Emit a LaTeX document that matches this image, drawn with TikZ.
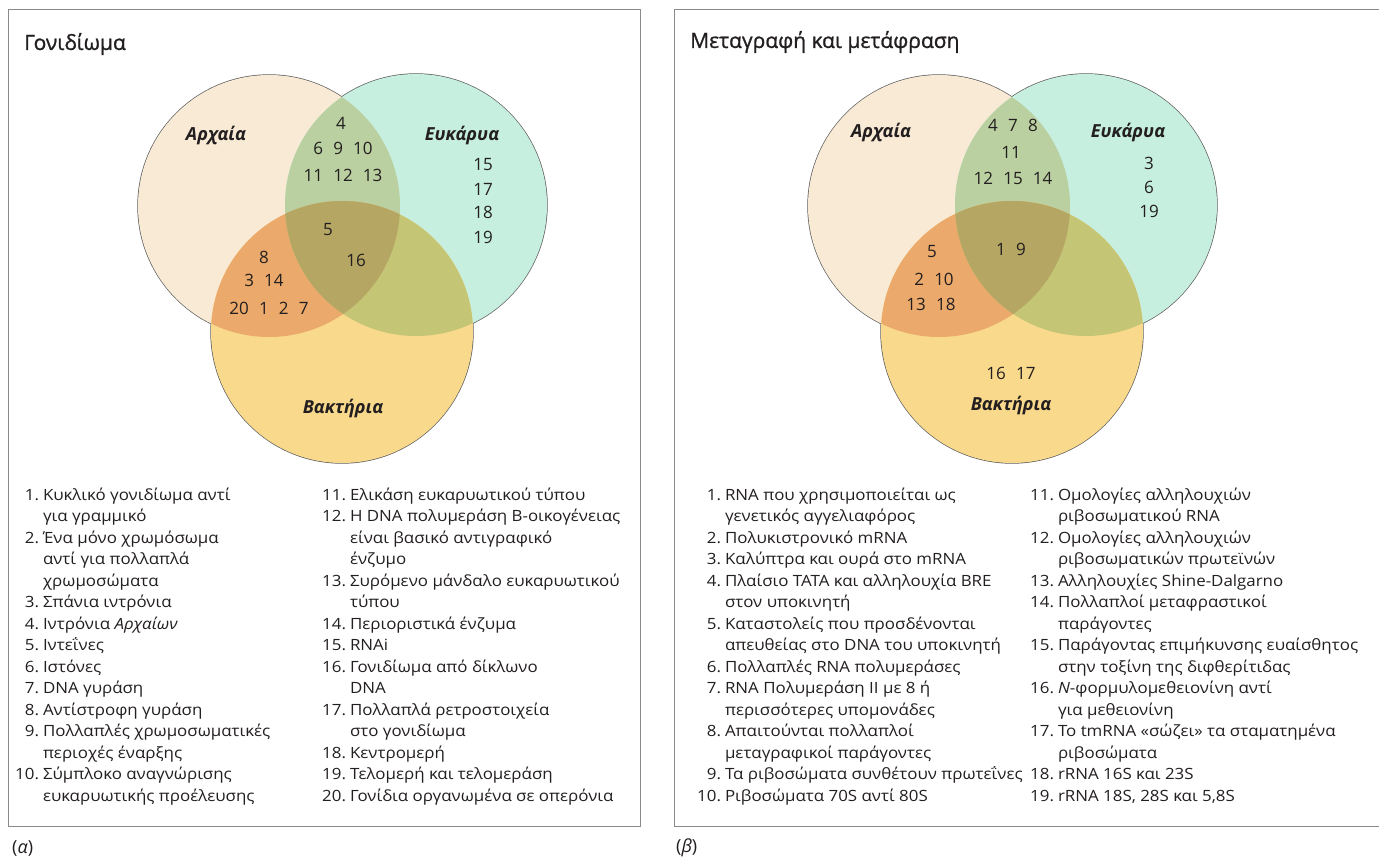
\documentclass[tikz,border=0pt]{standalone}
\usepackage{fontspec}
\setmainfont{Open Sans}
\setsansfont{Open Sans}
\newfontfamily\listfont[FakeStretch=1.09]{Open Sans}
\newfontfamily\titlefont[FakeBold=1]{Open Sans}
\definecolor{archfill}{HTML}{F8EAD4}
\definecolor{eukfill}{HTML}{C6EFDF}
\definecolor{bactfill}{HTML}{F9D98B}
\definecolor{archeuk}{HTML}{BAD0A1}
\definecolor{archbact}{HTML}{EBAA6B}
\definecolor{eukbact}{HTML}{C5C576}
\definecolor{allthree}{HTML}{B6A663}
\definecolor{rimgray}{HTML}{5E5E5E}
\definecolor{boxgray}{HTML}{8A8A8A}
\definecolor{inkblack}{HTML}{231F20}
\newcommand{\sep}{\hspace{0.6em}}
\newcommand{\rr}{131pt}
\tikzset{
  num/.style={font=\fontsize{17}{20}\selectfont, text=inkblack},
  kingdom/.style={font=\fontsize{18}{21}\selectfont\bfseries\itshape, text=inkblack},
  heading/.style={font=\fontsize{21}{25}\selectfont\titlefont, anchor=west, inner sep=0pt, text=inkblack},
  tag/.style={font=\fontsize{18}{21}\selectfont, anchor=west, inner sep=0pt, text=inkblack},
  itemlist/.style={font=\listfont\fontsize{15.5}{21.5}\selectfont, anchor=base west, inner sep=0pt, text=inkblack},
  panelbox/.style={draw=boxgray, line width=1pt},
  rim/.style={draw=rimgray, line width=1.4pt},
}
\begin{document}
\begin{tikzpicture}[x=1pt,y=-1pt]
\clip (0,0) rectangle (1379,859);
\fill[white] (0,0) rectangle (1379,859);
% panel frames
\draw[panelbox] (8,10) rectangle (640,826);
\draw[panelbox] (674,10) rectangle (1400,826);
% the three circles, the same in both panels
\foreach \sx/\p in {0/a,670/b}{
  \coordinate (arch\p) at (269+\sx,206);
  \coordinate (euk\p) at (416+\sx,205);
  \coordinate (bact\p) at (342+\sx,332);
  \draw[rim] (arch\p) circle [radius=\rr];
  \draw[rim] (euk\p) circle [radius=\rr];
  \draw[rim] (bact\p) circle [radius=\rr];
  \fill[archfill] (arch\p) circle [radius=\rr];
  \fill[eukfill] (euk\p) circle [radius=\rr];
  \fill[bactfill] (bact\p) circle [radius=\rr];
  \begin{scope}
    \clip (arch\p) circle [radius=\rr];
    \fill[archeuk] (euk\p) circle [radius=\rr];
    \fill[archbact] (bact\p) circle [radius=\rr];
  \end{scope}
  \begin{scope}
    \clip (euk\p) circle [radius=\rr];
    \fill[eukbact] (bact\p) circle [radius=\rr];
    \clip (arch\p) circle [radius=\rr];
    \fill[allthree] (bact\p) circle [radius=\rr];
  \end{scope}
}
% (a) genome
\node[heading] (titlea) at (24,44) {Γονιδίωμα};
\node[kingdom] (archnamea) at (216,135) {Αρχαία};
\node[kingdom] (euknamea) at (462,135) {Ευκάρυα};
\node[kingdom] (bactnamea) at (343,408) {Βακτήρια};
\node[num] (aea) at (341,123) {4};
\node[num] (aeb) at (343,148) {6\sep9\sep10};
\node[num] (aec) at (343,175) {11\sep12\sep13};
\node[num] (ea) at (483,165) {15};
\node[num] (eb) at (483,189) {17};
\node[num] (ec) at (483,212) {18};
\node[num] (ed) at (483,237) {19};
\node[num] (aeba) at (328,230) {5};
\node[num] (aebb) at (356,260) {16};
\node[num] (aba) at (264,257) {8};
\node[num] (abb) at (264,280) {3\sep14};
\node[num] (abc) at (269,308) {20\sep1\sep2\sep7};
\node[itemlist] (lista) at (15,500) {\begin{tabular}[t]{@{}r@{\hspace{4pt}}l@{}}
1. & Κυκλικό γονιδίωμα αντί\\
   & για γραμμικό\\
2. & Ένα μόνο χρωμόσωμα\\
   & αντί  για πολλαπλά\\
   & χρωμοσώματα\\
3. & Σπάνια ιντρόνια\\
4. & Ιντρόνια \textit{Αρχαίων}\\
5. & Ιντεΐνες\\
6. & Ιστόνες\\
7. & DNA γυράση\\
8. & Αντίστροφη γυράση\\
9. & Πολλαπλές χρωμοσωματικές\\
   & περιοχές έναρξης\\
10. & Σύμπλοκο αναγνώρισης\\
    & ευκαρυωτικής προέλευσης
\end{tabular}};
\node[itemlist] (listb) at (322,500) {\begin{tabular}[t]{@{}r@{\hspace{4pt}}l@{}}
11. & Ελικάση ευκαρυωτικού τύπου\\
12. & Η DNA πολυμεράση Β-οικογένειας\\
    & είναι βασικό αντιγραφικό\\
    & ένζυμο\\
13. & Συρόμενο μάνδαλο ευκαρυωτικού\\
    & τύπου\\
14. & Περιοριστικά ένζυμα\\
15. & RNAi\\
16. & Γονιδίωμα από δίκλωνο\\
    & DNA\\
17. & Πολλαπλά ρετροστοιχεία\\
    & στο γονιδίωμα\\
18. & Κεντρομερή\\
19. & Τελομερή και τελομεράση\\
20. & Γονίδια οργανωμένα σε οπερόνια
\end{tabular}};
\node[tag] (taga) at (12,848) {(\textit{α})};
% (b) transcription and translation
\node[heading] (titleb) at (690,42) {Μεταγραφή και μετάφραση};
\node[kingdom] (archnameb) at (881,132) {Αρχαία};
\node[kingdom] (euknameb) at (1128,132) {Ευκάρυα};
\node[kingdom] (bactnameb) at (1011,405) {Βακτήρια};
\node[num] (aeta) at (1013,125) {4\sep7\sep8};
\node[num] (aetb) at (1011,152) {11};
\node[num] (aetc) at (1013,178) {12\sep15\sep14};
\node[num] (eta) at (1149,163) {3};
\node[num] (etb) at (1149,187) {6};
\node[num] (etc) at (1149,211) {19};
\node[num] (aebt) at (1011,249) {1\sep9};
\node[num] (abta) at (932,252) {5};
\node[num] (abtb) at (934,279) {2\sep10};
\node[num] (abtc) at (931,304) {13\sep18};
\node[num] (bta) at (1011,373) {16\sep17};
\node[itemlist] (listc) at (697,500) {\begin{tabular}[t]{@{}r@{\hspace{4pt}}l@{}}
1. & RNA που χρησιμοποιείται ως\\
   & γενετικός αγγελιαφόρος\\
2. & Πολυκιστρονικό mRNA\\
3. & Καλύπτρα και ουρά στο mRNA\\
4. & Πλαίσιο TATA και αλληλουχία BRE\\
   & στον υποκινητή\\
5. & Καταστολείς που προσδένονται\\
   & απευθείας στο DNA του υποκινητή\\
6. & Πολλαπλές RNA πολυμεράσες\\
7. & RNA Πολυμεράση II με 8 ή\\
   & περισσότερες υπομονάδες\\
8. & Απαιτούνται πολλαπλοί\\
   & μεταγραφικοί παράγοντες\\
9. & Τα ριβοσώματα συνθέτουν πρωτεΐνες\\
10. & Ριβοσώματα 70S αντί 80S
\end{tabular}};
\node[itemlist] (listd) at (1030,500) {\begin{tabular}[t]{@{}r@{\hspace{4pt}}l@{}}
11. & Ομολογίες αλληλουχιών\\
    & ριβοσωματικού RNA\\
12. & Ομολογίες αλληλουχιών\\
    & ριβοσωματικών πρωτεϊνών\\
13. & Αλληλουχίες Shine-Dalgarno\\
14. & Πολλαπλοί μεταφραστικοί\\
    & παράγοντες\\
15. & Παράγοντας επιμήκυνσης ευαίσθητος\\
    & στην τοξίνη της διφθερίτιδας\\
16. & \textit{N}-φορμυλομεθειονίνη αντί\\
    & για μεθειονίνη\\
17. & Το tmRNA «σώζει» τα σταματημένα\\
    & ριβοσώματα\\
18. & rRNA 16S και 23S\\
19. & rRNA 18S, 28S και 5,8S
\end{tabular}};
\node[tag] (tagb) at (676,848) {(\textit{β})};
\end{tikzpicture}
\end{document}
